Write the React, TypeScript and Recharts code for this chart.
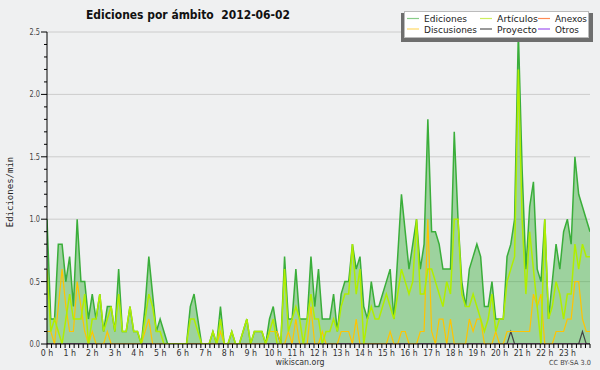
import React from 'react';
import { ComposedChart, Area, Line, XAxis, YAxis, CartesianGrid } from 'recharts';

// Values every 10 minutes, 0 h .. 24 h (145 points)
const ediciones = [
  1.0, 0.2, 0.2, 0.8, 0.8, 0.5, 0.7, 0.3, 1.0, 0.5,
  0.5, 0.2, 0.4, 0.2, 0.4, 0.1, 0.3, 0.3, 0.1, 0.6,
  0.1, 0.1, 0.3, 0.1, 0.1, 0, 0.3, 0.7, 0.4, 0.1,
  0.2, 0.1, 0, 0, 0, 0, 0, 0, 0.3, 0.4,
  0.2, 0, 0, 0, 0.1, 0, 0.3, 0, 0, 0.1,
  0, 0, 0.1, 0.2, 0, 0.1, 0.1, 0.1, 0, 0.2,
  0.3, 0.1, 0, 0.7, 0.2, 0.2, 0.6, 0.2, 0.2, 0.2,
  0.7, 0.3, 0.6, 0.2, 0.2, 0.2, 0.4, 0.1, 0.4, 0.5,
  0.5, 0.8, 0.6, 0.7, 0.3, 0.2, 0.5, 0.3, 0.3, 0.4,
  0.5, 0.6, 0.2, 0.7, 1.2, 0.9, 0.6, 0.8, 1.0, 0.6,
  0.8, 1.8, 0.9, 0.9, 0.8, 0.6, 0.6, 0.6, 1.7, 1.0,
  0.5, 0.3, 0.6, 0.7, 0.8, 0.7, 0.3, 0.3, 0.5, 0.2,
  0.2, 0.2, 0.7, 0.8, 1.0, 2.5, 1.4, 0.6, 1.1, 1.3,
  0.6, 0.5, 1.0, 0.2, 0.5, 0.8, 0.6, 0.9, 1.0, 0.8,
  1.5, 1.2, 1.1, 1.0, 0.9,
];

const articulos = [
  0.6, 0.1, 0.2, 0.1, 0, 0.2, 0.4, 0.2, 0.2, 0.2,
  0.4, 0, 0.2, 0.2, 0.4, 0.1, 0.2, 0.3, 0.1, 0.4,
  0.1, 0.1, 0.3, 0.1, 0.1, 0, 0.2, 0.4, 0.3, 0.1,
  0.1, 0, 0, 0, 0, 0, 0, 0, 0.2, 0.2,
  0.1, 0, 0, 0, 0.1, 0, 0.2, 0, 0, 0.1,
  0, 0, 0.1, 0.2, 0, 0.1, 0.1, 0.1, 0, 0.1,
  0.2, 0, 0, 0.6, 0.1, 0.2, 0.3, 0.2, 0, 0.2,
  0.4, 0.2, 0.2, 0, 0.1, 0.1, 0.2, 0.1, 0.3, 0.4,
  0.4, 0.8, 0.4, 0.6, 0, 0.2, 0.3, 0.2, 0.2, 0.3,
  0.4, 0.3, 0.2, 0.4, 0.6, 0.5, 0.4, 0.5, 1.0, 0.4,
  0.4, 0.6, 0.6, 0.5, 0.4, 0.3, 0.5, 0.4, 1.0, 1.0,
  0.4, 0.3, 0.3, 0.4, 0.3, 0.2, 0.1, 0.2, 0.4, 0.1,
  0.2, 0.2, 0.5, 0.6, 0.7, 2.2, 1.0, 0.4, 0.9, 0.6,
  0.3, 0, 1.0, 0.2, 0.3, 0.5, 0.4, 0.2, 0.4, 0.4,
  0.8, 0.6, 0.8, 0.7, 0.7,
];

const discusiones = [
  0.1, 0.1, 0, 0.3, 0.6, 0.3, 0.1, 0.1, 0.5, 0.3,
  0.1, 0, 0.1, 0, 0, 0, 0.1, 0, 0, 0,
  0, 0, 0, 0, 0, 0, 0.1, 0.2, 0, 0,
  0, 0, 0, 0, 0, 0, 0, 0, 0, 0,
  0, 0, 0, 0, 0, 0, 0.1, 0, 0, 0,
  0, 0, 0, 0, 0, 0, 0, 0, 0, 0.1,
  0.1, 0.1, 0, 0, 0.1, 0, 0.2, 0, 0, 0,
  0.3, 0, 0, 0.1, 0, 0, 0, 0, 0.1, 0.1,
  0.1, 0, 0.2, 0, 0, 0, 0, 0, 0, 0,
  0, 0.1, 0, 0, 0.1, 0.1, 0, 0, 0, 0.1,
  0.1, 1.0, 0.1, 0, 0.2, 0.2, 0, 0.2, 0, 0,
  0, 0, 0.2, 0.1, 0.2, 0.2, 0, 0, 0, 0.1,
  0, 0, 0.1, 0.1, 0.1, 0.1, 0.1, 0.1, 0.1, 0.4,
  0.3, 0.4, 0, 0, 0, 0.1, 0.1, 0.1, 0.2, 0.2,
  0.5, 0.5, 0.2, 0.1, 0.1,
];

const proyecto = [
  0, 0, 0, 0, 0, 0, 0, 0, 0, 0,
  0, 0, 0, 0, 0, 0, 0, 0, 0, 0,
  0, 0, 0, 0, 0, 0, 0, 0, 0, 0,
  0, 0, 0, 0, 0, 0, 0, 0, 0, 0,
  0, 0, 0, 0, 0, 0, 0, 0, 0, 0,
  0, 0, 0, 0, 0, 0, 0, 0, 0, 0,
  0, 0, 0, 0, 0, 0, 0, 0, 0, 0,
  0, 0, 0, 0, 0, 0, 0, 0, 0, 0,
  0, 0, 0, 0, 0, 0, 0, 0, 0, 0,
  0, 0, 0, 0, 0, 0, 0, 0, 0, 0,
  0, 0, 0, 0, 0, 0, 0, 0, 0, 0,
  0, 0, 0, 0, 0, 0, 0, 0, 0, 0,
  0, 0, 0, 0.1, 0, 0, 0, 0, 0, 0,
  0, 0, 0, 0, 0, 0, 0, 0, 0, 0,
  0, 0, 0.1, 0, 0,
];

const anexos = [
  0, 0, 0, 0, 0, 0, 0, 0, 0, 0, 0, 0, 0, 0, 0, 0, 0, 0, 0, 0,
  0, 0, 0, 0, 0, 0, 0, 0, 0, 0, 0, 0, 0, 0, 0, 0, 0, 0, 0, 0,
  0, 0, 0, 0, 0, 0, 0, 0, 0, 0, 0, 0, 0, 0, 0, 0, 0, 0, 0, 0,
  0, 0, 0, 0, 0, 0, 0, 0, 0, 0, 0, 0, 0, 0, 0, 0, 0, 0, 0, 0,
  0, 0, 0, 0, 0, 0, 0, 0, 0, 0, 0, 0, 0, 0, 0, 0, 0, 0, 0, 0,
  0, 0, 0, 0, 0, 0, 0, 0, 0, 0, 0, 0, 0, 0, 0, 0, 0, 0, 0, 0,
  0, 0, 0, 0, 0, 0, 0, 0, 0, 0, 0, 0, 0, 0, 0, 0, 0, 0, 0, 0,
  0, 0, 0, 0, 0,
];

const otros = [
  0, 0, 0, 0, 0, 0, 0, 0, 0, 0, 0, 0, 0, 0, 0, 0, 0, 0, 0, 0,
  0, 0, 0, 0, 0, 0, 0, 0, 0, 0, 0, 0, 0, 0, 0, 0, 0, 0, 0, 0,
  0, 0, 0, 0, 0, 0, 0, 0, 0, 0, 0, 0, 0, 0, 0, 0, 0, 0, 0, 0,
  0, 0, 0, 0, 0, 0, 0, 0, 0, 0, 0, 0, 0, 0, 0, 0, 0, 0, 0, 0,
  0, 0, 0, 0, 0, 0, 0, 0, 0, 0, 0, 0, 0, 0, 0, 0, 0, 0, 0, 0,
  0, 0, 0, 0, 0, 0, 0, 0, 0, 0, 0, 0, 0, 0, 0, 0, 0, 0, 0, 0,
  0, 0, 0, 0, 0, 0, 0, 0, 0, 0, 0, 0, 0, 0, 0, 0, 0, 0, 0, 0,
  0, 0, 0, 0, 0,
];

const hourLabels = [
  '0 h', '1 h', '2 h', '3 h', '4 h', '5 h', '6 h', '7 h', '8 h', '9 h', '10 h', '11 h',
  '12 h', '13 h', '14 h', '15 h', '16 h', '17 h', '18 h', '19 h', '20 h', '21 h', '22 h', '23 h',
];
const yMajorTicks = [0, 0.5, 1, 1.5, 2, 2.5];
const yMajorLabels = ['0.0', '0.5', '1.0', '1.5', '2.0', '2.5'];
const gridValues = [0.5, 1, 1.5, 2, 2.5];

const TITLE = 'Ediciones por ámbito  2012-06-02';
const Y_LABEL = 'Ediciones/min';

const COLORS = {
  bg: '#eff0f1',
  grid: '#cccccc',
  edicionesStroke: '#3aae3a',
  edicionesFill: '#3aae3a',
  articulos: '#b0ee00',
  discusiones: '#ffc400',
  proyecto: '#444444',
  anexos: '#ff7a40',
  otros: '#9a40f0',
};

const legendItems = [
  { name: 'Ediciones', color: '#88cc88' },
  { name: 'Artículos', color: '#cdee60' },
  { name: 'Anexos', color: '#ff8a55' },
  { name: 'Discusiones', color: '#ffd966' },
  { name: 'Proyecto', color: '#555555' },
  { name: 'Otros', color: '#a055f0' },
];
// layout of the legend (column/row per item, text lengths in px)
const legendLayout = [
  { col: 0, row: 0, w: 43 },
  { col: 1, row: 0, w: 41 },
  { col: 2, row: 0, w: 32 },
  { col: 0, row: 1, w: 53 },
  { col: 1, row: 1, w: 40 },
  { col: 2, row: 1, w: 24 },
];

const data = ediciones.map((v, i) => ({
  h: i / 6,
  ediciones: v,
  articulos: articulos[i],
  discusiones: discusiones[i],
  proyecto: proyecto[i],
  anexos: anexos[i],
  otros: otros[i],
}));

const xTicks = Array.from({ length: 121 }, (_, i) => i / 5);
const yTicks = Array.from({ length: 26 }, (_, i) => i / 10);

const FONT = '"DejaVu Sans", sans-serif';

const XTick = (props: any) => {
  const { x, y, payload } = props;
  const v = payload.value as number;
  const r = Math.round(v);
  const isHour = Math.abs(v - r) < 1e-6 && r < 24;
  const label = isHour ? hourLabels[r] : '';
  return (
    <g>
      <line x1={x} x2={x} y1={y} y2={y + 4} stroke="#000" strokeWidth={1} />
      {isHour && (
        <text
          x={x}
          y={y + 11.5}
          textAnchor="middle"
          fontSize={8.5}
          fill="#333"
          fontFamily={FONT}
          textLength={label.length > 3 ? 17 : 12.5}
          lengthAdjust="spacingAndGlyphs"
        >
          {label}
        </text>
      )}
    </g>
  );
};

const YTick = (props: any) => {
  const { x, y, payload } = props;
  const v = payload.value as number;
  const idx = yMajorTicks.findIndex((m) => Math.abs(m - v) < 1e-6);
  const major = idx >= 0;
  return (
    <g>
      <line x1={x - (major ? 6 : 3)} x2={x} y1={y} y2={y} stroke="#000" strokeWidth={1} />
      {major && (
        <text x={x - 7} y={y + 3} textAnchor="end" fontSize={8} fill="#444" fontFamily={FONT} textLength={10.5} lengthAdjust="spacingAndGlyphs">
          {yMajorLabels[idx]}
        </text>
      )}
    </g>
  );
};

const Overlay = () => {
  const colX = [407, 480, 538];
  const rowY = [18.5, 29];
  return (
    <svg width={600} height={370} style={{ position: 'absolute', left: 0, top: 0, pointerEvents: 'none' }}>
      <text x={86} y={18.5} fontSize={12.5} fontWeight="bold" fill="#111" fontFamily={FONT} style={{ whiteSpace: 'pre' }} textLength={204} lengthAdjust="spacingAndGlyphs">
        {TITLE}
      </text>
      <text
        transform="translate(13,192) rotate(-90)"
        textAnchor="middle"
        fontSize={9}
        fill="#222"
        fontFamily='"DejaVu Sans Mono", monospace'
      >
        {Y_LABEL}
      </text>
      <text x={300} y={365} textAnchor="middle" fontSize={9} fill="#333" fontFamily={FONT} textLength={49} lengthAdjust="spacingAndGlyphs">
        wikiscan.org
      </text>
      <text x={591} y={365} textAnchor="end" fontSize={7} fill="#444" fontFamily={FONT} textLength={42} lengthAdjust="spacingAndGlyphs">
        CC BY-SA 3.0
      </text>
      {/* legend */}
      <rect x={401} y={13} width={192} height={29} fill="#6e6e6e" />
      <rect x={404.5} y={11.5} width={184} height={26} fill="#ffffff" stroke="#bbbbbb" strokeWidth={1} />
      {legendItems.map((it, i) => {
        const l = legendLayout[i];
        return (
          <g key={it.name}>
            <line x1={colX[l.col]} x2={colX[l.col] + 12} y1={rowY[l.row]} y2={rowY[l.row]} stroke={it.color} strokeWidth={1.2} />
            <text
              x={colX[l.col] + 17}
              y={rowY[l.row] + 3.5}
              fontSize={9.5}
              fill="#222"
              fontFamily={FONT}
              textLength={l.w}
              lengthAdjust="spacingAndGlyphs"
            >
              {it.name}
            </text>
          </g>
        );
      })}
    </svg>
  );
};

export default function App() {
  return (
    <div style={{ position: 'absolute', left: 0, top: 0, width: 600, height: 370, background: COLORS.bg, overflow: 'hidden' }}>
      <ComposedChart width={600} height={370} data={data} margin={{ top: 32, right: 10, left: 0, bottom: 0 }}>
        <CartesianGrid vertical={false} horizontalValues={gridValues} stroke={COLORS.grid} strokeDasharray="" />
        <Area
          type="linear"
          dataKey="ediciones"
          stroke={COLORS.edicionesStroke}
          strokeWidth={1.5}
          fill={COLORS.edicionesFill}
          fillOpacity={0.45}
          dot={false}
          activeDot={false}
          isAnimationActive={false}
        />
        <Line type="linear" dataKey="anexos" stroke={COLORS.anexos} strokeWidth={1} dot={false} activeDot={false} isAnimationActive={false} />
        <Line type="linear" dataKey="otros" stroke={COLORS.otros} strokeWidth={1} dot={false} activeDot={false} isAnimationActive={false} />
        <Line type="linear" dataKey="proyecto" stroke={COLORS.proyecto} strokeWidth={1.2} dot={false} activeDot={false} isAnimationActive={false} />
        <Line type="linear" dataKey="discusiones" stroke={COLORS.discusiones} strokeWidth={1.2} dot={false} activeDot={false} isAnimationActive={false} />
        <Line type="linear" dataKey="articulos" stroke={COLORS.articulos} strokeWidth={1.5} dot={false} activeDot={false} isAnimationActive={false} />
        <XAxis
          dataKey="h"
          type="number"
          domain={[0, 24]}
          ticks={xTicks}
          interval={0}
          height={26}
          tickSize={0}
          tickMargin={0}
          tickLine={false}
          axisLine={{ stroke: '#000' }}
          tick={<XTick />}
          allowDataOverflow
        />
        <YAxis
          type="number"
          domain={[0, 2.5]}
          ticks={yTicks}
          interval={0}
          width={47}
          tickSize={0}
          tickMargin={0}
          tickLine={false}
          axisLine={{ stroke: '#000' }}
          tick={<YTick />}
          allowDataOverflow
        />
      </ComposedChart>
      <Overlay />
    </div>
  );
}
